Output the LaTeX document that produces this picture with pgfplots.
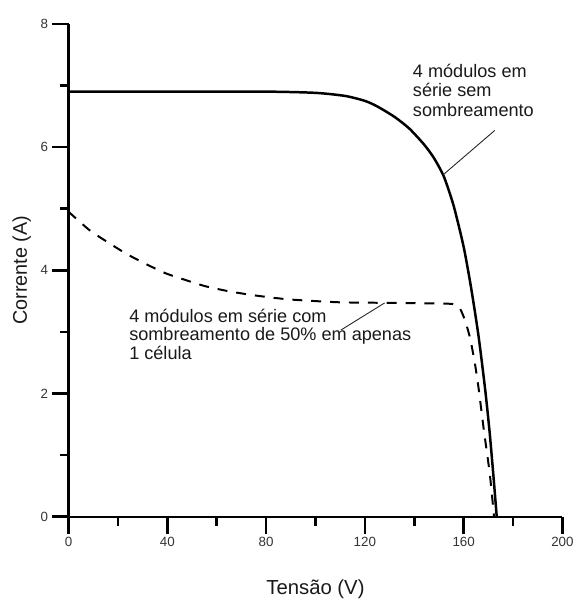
\documentclass[border=0pt]{standalone}
\usepackage{fontspec}
\setmainfont{Liberation Sans}
\usepackage{pgfplots}
\pgfplotsset{compat=1.18}
\begin{document}
\begin{tikzpicture}
\begin{axis}[
  scale only axis,
  width=497bp, height=496bp,
  at={(0,0)}, anchor=south west,
  xmin=0, xmax=200, ymin=0, ymax=8,
  axis lines=left,
  axis line style={-, line width=2.2bp},
  xtick={0,40,80,120,160,200},
  ytick={0,2,4,6,8},
  minor xtick={20,60,100,140,180},
  minor ytick={1,3,5,7},
  tick align=outside,
  major tick length=17bp,
  minor tick length=9bp,
  tick style={line width=2.6bp, black},
  tick label style={font=\fontsize{13.5}{15}\selectfont, text=black!80},
  /pgf/number format/assume math mode=true,
  clip=false,
]
\addplot[black, line width=2.5bp, smooth, tension=0.4] coordinates {
(0,6.90) (40,6.90) (80,6.90) (100,6.88) (112,6.83) (120,6.75) (125,6.66)
(132,6.49) (138,6.30) (144,6.04) (148,5.82) (152,5.52) (156,5.04) (160,4.38)
(163,3.72) (166,2.94) (168.7,2.07) (170.5,1.38) (172,0.69) (173.4,0)
};
\addplot[black, line width=2bp, dash pattern=on 10bp off 9bp, smooth, tension=0.4] coordinates {
(0,4.95) (8.5,4.65) (15.3,4.47) (23.3,4.27) (31.4,4.10) (39.4,3.95) (47.5,3.84)
(55.5,3.74) (64.8,3.66) (74,3.60) (83.7,3.55) (91.7,3.52) (110,3.48) (133,3.47)
(150,3.46) (156,3.45) (158.5,3.38) (160.6,3.18) (162.6,2.90) (164.5,2.50)
(166,2.10) (168.2,1.40) (170.6,0.69) (172.3,0)
};
\draw[black!85, line width=0.9bp] (axis cs:172.6,6.27) -- (axis cs:151.7,5.55);
\draw[black!85, line width=0.9bp] (axis cs:110.3,3.03) -- (axis cs:128,3.47);
\node[anchor=north west, inner sep=0pt, align=left, font=\fontsize{18.3}{19.5}\selectfont, text=black!90]
  at (axis cs:139.4,7.35) {4 módulos em\\série sem\\sombreamento};
\node[anchor=north west, inner sep=0pt, align=left, font=\fontsize{18.3}{18.5}\selectfont, text=black!90]
  at (axis cs:24.5,3.37) {4 módulos em série com\\sombreamento de 50\% em apenas\\1 célula};
\node[rotate=90, font=\fontsize{20}{22}\selectfont, text=black!90] at ([xshift=-47bp]rel axis cs:0,0.5) {Corrente (A)};
\node[font=\fontsize{20.5}{22}\selectfont, text=black!90] at ([yshift=-73bp]rel axis cs:0.5,0) {Tensão (V)};
\end{axis}
\path (-69bp,-82bp) rectangle (508bp,520bp);
\end{tikzpicture}
\end{document}
